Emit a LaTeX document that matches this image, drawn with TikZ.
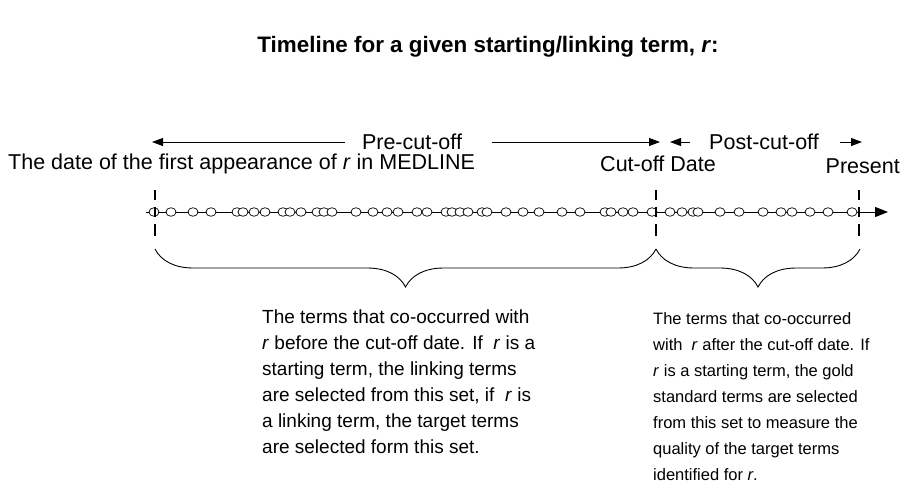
\documentclass[tikz,border=0pt]{standalone}
\usepackage{fontspec}
\setmainfont{Liberation Sans}
\usetikzlibrary{arrows.meta,shapes.geometric,decorations.pathreplacing}

\tikzset{
  occ/.style={draw, ellipse, fill=white, inner sep=0pt, minimum width=10pt, minimum height=8.5pt, line width=0.7pt},
  tick/.style={line width=1.3pt, dash pattern=on 10pt off 7pt on 10pt off 7pt on 12pt},
  span/.style={-{Triangle[length=11pt,width=8pt]}, line width=0.9pt},
  curly/.style={decorate, decoration={brace, amplitude=38pt, mirror}, line width=0.9pt},
  lbl/.style={font=\fontsize{21.5}{24}\selectfont, inner sep=0pt},
  note/.style={align=left, inner sep=0pt, anchor=north west},
}

\begin{document}
\begin{tikzpicture}[x=1pt,y=-1pt]
\useasboundingbox (0,0) rectangle (900,496);

\node[font=\bfseries\fontsize{22.4}{25}\selectfont] (title) at (488,47) {Timeline for a given starting/linking term, \textit{r}:};

% periods above the line
\node[lbl] (pre) at (412,142) {Pre-cut-off};
\node[lbl] (post) at (764,142) {Post-cut-off};
\coordinate (preL) at (152,142);
\coordinate (preR) at (660,142);
\coordinate (postL) at (670,142);
\coordinate (postR) at (862,142);
\draw[span, shorten <=17pt] (pre) -- (preL);
\draw[span, shorten <=30pt] (pre) -- (preR);
\draw[span, shorten <=19pt] (post) -- (postL);
\draw[span, shorten <=21pt] (post) -- (postR);

% dates
\node[lbl, anchor=west] (first) at (8,164) {The date of the first appearance of \textit{r} in MEDLINE};
\node[lbl] (cutdate) at (658,164) {Cut-off Date};
\node[lbl, anchor=east] (present) at (900,166) {Present};

% timeline
\coordinate (t0) at (146,212);
\coordinate (t1) at (888,212);
\draw[-{Triangle[length=13pt,width=10pt]}, line width=1pt] (t0) -- (t1);
\foreach \x [count=\i] in {154,171,193,211,237,243,254,265,283,290,301,317,324,332,356,373,387,398,417,427,446,452,460,468,482,487,506,523,539,562,580,605,611,623,633,652,670,682,693,698,720,739,763,781,792,810,828,852}
  \node[occ] (c\i) at (\x,212) {};

% markers
\foreach \x/\n in {155/m0,656/m1,859/m2} {
  \coordinate (\n top) at (\x,190);
  \coordinate (\n bot) at (\x,236);
  \draw[tick] (\n top) -- (\n bot);
}

% braces
\coordinate (b0) at (155,249);
\coordinate (b1) at (656,249);
\coordinate (b2) at (860,249);
\draw[curly] (b0) -- (b1);
\draw[curly] (b1) -- (b2);

% notes
\node[note, font=\fontsize{19}{26}\selectfont] (leftnote) at (262,310) {The terms that co-occurred with\\
\textit{r} before the cut-off date. If \ \textit{r} is a\\
starting term, the linking terms\\
are selected from this set, if \ \textit{r} is\\
a linking term, the target terms\\
are selected form this set.};
\node[note, font=\fontsize{16.5}{26}\selectfont] (rightnote) at (653,312) {The terms that co-occurred\\
with \ \textit{r} after the cut-off date. If\\
\textit{r} is a starting term, the gold\\
standard terms are selected\\
from this set to measure the\\
quality of the target terms\\
identified for \textit{r}.};
\end{tikzpicture}
\end{document}
